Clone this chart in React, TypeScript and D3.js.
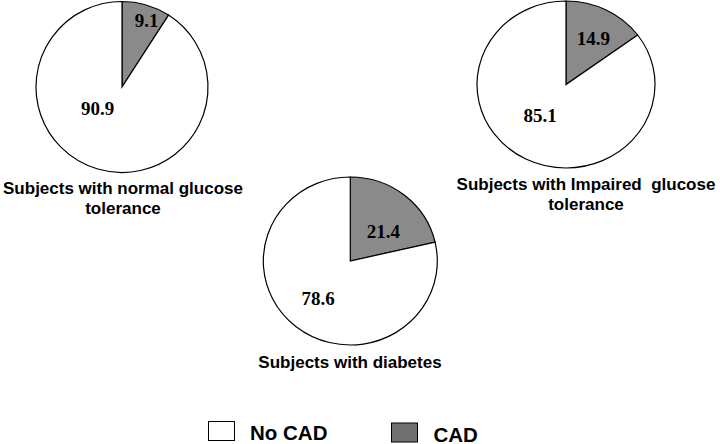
import React from "react";
import * as d3 from "d3";

// ---- data ----
const categories = ["CAD", "No CAD"];
const groupTitles = [
  ["Subjects with normal glucose", "tolerance"],
  ["Subjects with Impaired  glucose", "tolerance"],
  ["Subjects with diabetes"],
];
const cadValues = [9.1, 14.9, 21.4];
const noCadValues = [90.9, 85.1, 78.6];

// ---- layout (not data) ----
const W = 720;
const H = 444;
const pieLayout = [
  { cx: 122, cy: 87, rx: 86, ry: 85.5, lab: [[24.7, -60.3], [-24.5, 28]], titleX: 123, titleY: 194 },
  { cx: 566, cy: 84.5, rx: 89, ry: 83.5, lab: [[27.3, -39.5], [-26, 37.2]], titleX: 586, titleY: 190 },
  { cx: 350.3, cy: 261, rx: 87, ry: 84, lab: [[33, -22.7], [-32.3, 44]], titleX: 350, titleY: 368 },
];
const colors: Record<string, string> = { CAD: "#8a8a8a", "No CAD": "#ffffff" };
const legendColors: Record<string, string> = { CAD: "#707070", "No CAD": "#ffffff" };

const R = 100;
const pieGen = d3.pie<{ k: string; v: number }>().sort(null).value((d) => d.v);
const arcGen = d3.arc<d3.PieArcDatum<{ k: string; v: number }>>().innerRadius(0).outerRadius(R);

export default function App() {
  return (
    <svg width={W} height={H} style={{ position: "absolute", left: 0, top: 0, background: "#fff" }}>
      <rect width={W} height={H} fill="#fff" />
      {pieLayout.map((p, i) => {
        const data = [
          { k: categories[0], v: cadValues[i] },
          { k: categories[1], v: noCadValues[i] },
        ];
        const arcs = pieGen(data);
        const labels = [cadValues[i], noCadValues[i]];
        return (
          <g key={i}>
            <g transform={`translate(${p.cx},${p.cy}) scale(${p.rx / R},${p.ry / R})`}>
              {arcs.map((a, j) => (
                <path
                  key={j}
                  d={arcGen(a) || ""}
                  fill={colors[a.data.k]}
                  stroke="#000"
                  strokeWidth={1.2}
                  vectorEffect="non-scaling-stroke"
                />
              ))}
            </g>
            {labels.map((v, j) => (
              <text
                key={j}
                x={p.cx + p.lab[j][0]}
                y={p.cy + p.lab[j][1]}
                textAnchor="middle"
                fontFamily="'Liberation Serif', 'Times New Roman', serif"
                fontWeight="bold"
                fontSize={19}
                fill="#000"
              >
                {v.toFixed(1)}
              </text>
            ))}
            {groupTitles[i].map((t, j) => (
              <text
                key={j}
                x={p.titleX}
                y={p.titleY + j * 19.5}
                textAnchor="middle"
                fontFamily="'Liberation Sans', Arial, sans-serif"
                fontWeight="bold"
                fontSize={17}
                fill="#000"
                style={{ whiteSpace: "pre" }}
              >
                {t}
              </text>
            ))}
          </g>
        );
      })}
      {/* legend */}
      {[categories[1], categories[0]].map((c, i) => {
        const bx = i === 0 ? 208.5 : 391.5;
        const by = i === 0 ? 421.5 : 423;
        return (
          <g key={c}>
            <rect x={bx} y={by} width={26} height={19} fill={legendColors[c]} stroke="#000" strokeWidth={1} />
            <text
              x={bx + (i === 0 ? 41.5 : 42)}
              y={by + 18.5}
              fontFamily="'Liberation Sans', Arial, sans-serif"
              fontWeight="bold"
              fontSize={20.5}
              fill="#000"
            >
              {c}
            </text>
          </g>
        );
      })}
    </svg>
  );
}
